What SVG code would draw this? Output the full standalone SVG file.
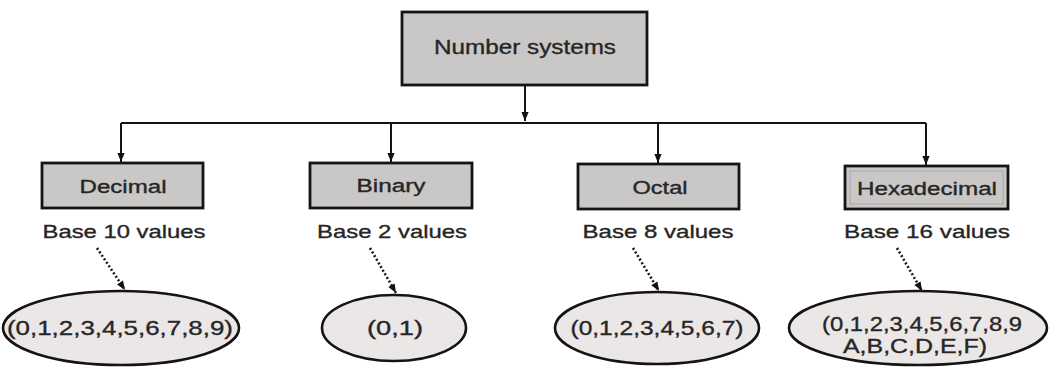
<svg xmlns="http://www.w3.org/2000/svg" width="1050" height="367" viewBox="0 0 1050 367">
  <defs>
    <marker id="arr" viewBox="0 0 10 10" refX="10" refY="5" markerWidth="11" markerHeight="9" markerUnits="userSpaceOnUse" orient="auto">
      <path d="M0,1 L10,5 L0,9 Z" fill="#111"/>
    </marker>
    <style>
      .box { fill: #cac8c6; stroke: #141414; stroke-width: 2.8; }
      .ell { fill: #ebe7e7; stroke: #141414; stroke-width: 2.6; }
      .t { font-family: "Liberation Sans", Arial, sans-serif; fill: #262626; stroke: #262626; stroke-width: 0.35; text-anchor: middle; }
      .hd { font-size: 18px; }
      .bs { font-size: 19px; }
      .ev { font-size: 21px; }
      .conn { fill: none; stroke: #141414; stroke-width: 2; }
      .dot { fill: none; stroke: #1a1a1a; stroke-width: 2.6; stroke-dasharray: 2 2.2; }
    </style>
  </defs>
  <rect width="1050" height="367" fill="#ffffff"/>

  <g id="connectors">
    <path class="conn" d="M525,85 V121" marker-end="url(#arr)"/>
    <path class="conn" d="M121,123 H926"/>
    <path class="conn" d="M121,123 V162" marker-end="url(#arr)"/>
    <path class="conn" d="M391,123 V162" marker-end="url(#arr)"/>
    <path class="conn" d="M658,123 V163" marker-end="url(#arr)"/>
    <path class="conn" d="M926,123 V165" marker-end="url(#arr)"/>
    <path class="dot" d="M97,248 L125,290" marker-end="url(#arr)"/>
    <path class="dot" d="M370,248 L396,293" marker-end="url(#arr)"/>
    <path class="dot" d="M633,248 L659,291" marker-end="url(#arr)"/>
    <path class="dot" d="M897,248 L922,291" marker-end="url(#arr)"/>
  </g>

  <g id="number-systems">
    <rect class="box" x="402" y="12" width="245" height="73"/>
    <text class="t" x="525" y="54" style="font-size:21px" textLength="182" lengthAdjust="spacingAndGlyphs">Number systems</text>
  </g>

  <g id="decimal">
    <rect class="box" x="42" y="163" width="161" height="45"/>
    <text class="t hd" x="123" y="193" textLength="87" lengthAdjust="spacingAndGlyphs">Decimal</text>
    <text class="t bs" x="124" y="238" textLength="163" lengthAdjust="spacingAndGlyphs">Base 10 values</text>
  </g>
  <g id="binary">
    <rect class="box" x="310" y="163" width="162" height="45"/>
    <text class="t hd" x="391" y="192" textLength="69" lengthAdjust="spacingAndGlyphs">Binary</text>
    <text class="t bs" x="392" y="238" textLength="150" lengthAdjust="spacingAndGlyphs">Base 2 values</text>
  </g>
  <g id="octal">
    <rect class="box" x="578" y="164" width="161" height="45"/>
    <text class="t hd" x="660" y="194" textLength="55" lengthAdjust="spacingAndGlyphs">Octal</text>
    <text class="t bs" x="658" y="238" textLength="151" lengthAdjust="spacingAndGlyphs">Base 8 values</text>
  </g>
  <g id="hexadecimal">
    <rect class="box" x="845" y="166" width="163" height="43"/>
    <rect x="850" y="171" width="153" height="33" fill="none" stroke="#a8a8a8" stroke-width="1"/>
    <text class="t hd" x="927" y="195" textLength="140" lengthAdjust="spacingAndGlyphs">Hexadecimal</text>
    <text class="t bs" x="927" y="238" textLength="166" lengthAdjust="spacingAndGlyphs">Base 16 values</text>
  </g>

  <g id="decimal-values">
    <ellipse class="ell" cx="121" cy="328" rx="118" ry="37"/>
    <text class="t ev" x="120" y="335" textLength="226" lengthAdjust="spacingAndGlyphs">(0,1,2,3,4,5,6,7,8,9)</text>
  </g>
  <g id="binary-values">
    <ellipse class="ell" cx="394" cy="328" rx="72" ry="33"/>
    <text class="t ev" x="395" y="335" textLength="56" lengthAdjust="spacingAndGlyphs">(0,1)</text>
  </g>
  <g id="octal-values">
    <ellipse class="ell" cx="657" cy="328" rx="102" ry="36"/>
    <text class="t ev" x="657" y="335" textLength="173" lengthAdjust="spacingAndGlyphs">(0,1,2,3,4,5,6,7)</text>
  </g>
  <g id="hex-values">
    <ellipse class="ell" cx="918" cy="328" rx="129" ry="37"/>
    <text class="t ev" x="922" y="331" textLength="200" lengthAdjust="spacingAndGlyphs">(0,1,2,3,4,5,6,7,8,9</text>
    <text class="t ev" x="915" y="353" textLength="144" lengthAdjust="spacingAndGlyphs">A,B,C,D,E,F)</text>
  </g>
</svg>
